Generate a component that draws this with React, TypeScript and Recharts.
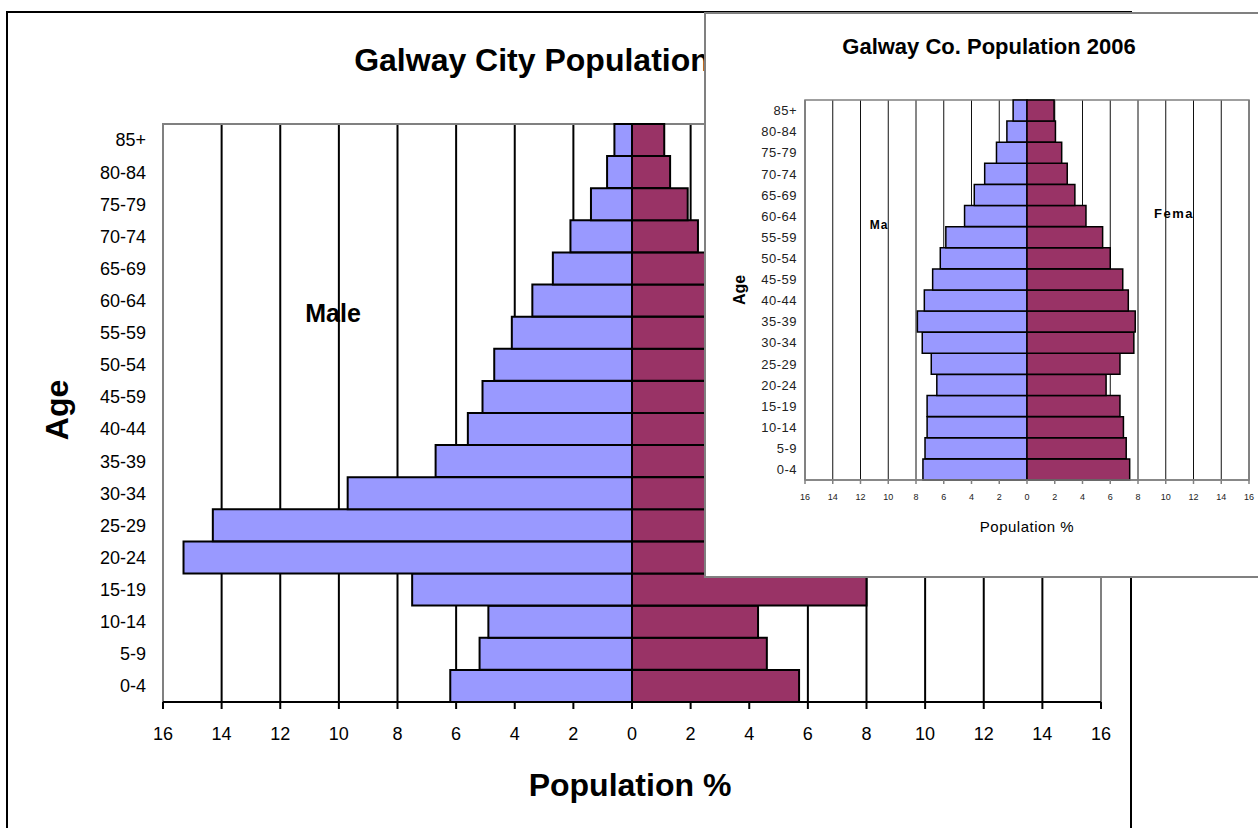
import React from "react";
import {
	Bar,
	BarChart,
	CartesianGrid,
	ReferenceArea,
	XAxis,
	YAxis,
} from "recharts";

// Age groups, bottom to top (the source sheet says "45-59" where it means 45-49)
export const ageGroups = [
	"0-4", "5-9", "10-14", "15-19", "20-24", "25-29", "30-34", "35-39", "40-44",
	"45-59", "50-54", "55-59", "60-64", "65-69", "70-74", "75-79", "80-84", "85+",
];

// Galway City 2006, % of population
export const cityMale = [6.2, 5.2, 4.9, 7.5, 15.3, 14.3, 9.7, 6.7, 5.6, 5.1, 4.7, 4.1, 3.4, 2.7, 2.1, 1.4, 0.85, 0.6];
export const cityFemale = [5.7, 4.6, 4.3, 8.0, 13.0, 12.5, 8.8, 6.2, 5.2, 4.7, 4.3, 3.6, 3.0, 2.6, 2.25, 1.9, 1.3, 1.1];

// Galway County 2006, % of population
export const countyMale = [7.5, 7.35, 7.2, 7.2, 6.5, 6.9, 7.55, 7.9, 7.4, 6.8, 6.25, 5.85, 4.5, 3.8, 3.05, 2.2, 1.45, 1.0];
export const countyFemale = [7.4, 7.15, 6.95, 6.7, 5.7, 6.7, 7.7, 7.8, 7.3, 6.9, 6.0, 5.45, 4.25, 3.45, 2.9, 2.5, 2.05, 1.95];

export const popTicks = [-16, -14, -12, -10, -8, -6, -4, -2, 0, 2, 4, 6, 8, 10, 12, 14, 16];

const MALE = "#9999FF";
const FEMALE = "#993366";
const FONT = "'Liberation Sans', Arial, sans-serif";

// male goes left of zero, so store it negative
const toRows = (male: number[], female: number[]) =>
	ageGroups.map((age, i) => ({ age, male: -male[i], female: female[i] }));

const cityRows = toRows(cityMale, cityFemale);
const countyRows = toRows(countyMale, countyFemale);

const abs = (v: number) => String(Math.abs(v));

function Label({ x, y, size, bold = true, rotate = false, spacing = 0, children }: any) {
	return (
		<div
			style={{
				position: "absolute",
				left: x,
				top: y,
				transform: `translate(-50%, -50%)${rotate ? " rotate(-90deg)" : ""}`,
				fontFamily: FONT,
				fontSize: size,
				fontWeight: bold ? 700 : 400,
				letterSpacing: spacing,
				whiteSpace: "nowrap",
				color: "#000",
			}}
		>
			{children}
		</div>
	);
}

function CityChart() {
	return (
		<BarChart
			width={1122}
			height={830}
			data={cityRows}
			layout="vertical"
			stackOffset="sign"
			barCategoryGap={0}
			margin={{ top: 111, right: 29, bottom: 81, left: 0 }}
		>
			<CartesianGrid horizontal={false} stroke="#000" strokeWidth={2} />
			<ReferenceArea x1={-16} x2={16} fill="none" stroke="#808080" strokeWidth={2} />
			<XAxis
				type="number"
				domain={[-16, 16]}
				ticks={popTicks}
				tickFormatter={abs}
				height={60}
				axisLine={{ stroke: "#000", strokeWidth: 2 }}
				tickLine={{ stroke: "#000", strokeWidth: 2 }}
				tickSize={7}
				tickMargin={18}
				tick={{ fill: "#000", fontSize: 18, fontFamily: FONT }}
			/>
			<YAxis
				type="category"
				dataKey="age"
				reversed
				width={155}
				axisLine={false}
				tickLine={false}
				tickSize={0}
				tickMargin={17}
				interval={0}
				tick={{ fill: "#000", fontSize: 18, fontFamily: FONT }}
			/>
			<Bar dataKey="male" stackId="a" fill={MALE} stroke="#000" strokeWidth={2} isAnimationActive={false} />
			<Bar dataKey="female" stackId="a" fill={FEMALE} stroke="#000" strokeWidth={2} isAnimationActive={false} />
		</BarChart>
	);
}

function CountyChart() {
	return (
		<BarChart
			width={560}
			height={562}
			data={countyRows}
			layout="vertical"
			stackOffset="sign"
			barCategoryGap={0}
			margin={{ top: 86, right: 17, bottom: 51, left: 0 }}
		>
			<CartesianGrid horizontal={false} stroke="#111" strokeWidth={1} />
			<ReferenceArea x1={-16} x2={16} fill="none" stroke="#808080" strokeWidth={1.5} />
			<XAxis
				type="number"
				domain={[-16, 16]}
				ticks={popTicks}
				tickFormatter={abs}
				height={45}
				axisLine={{ stroke: "#808080", strokeWidth: 1.5 }}
				tickLine={{ stroke: "#808080", strokeWidth: 1.5 }}
				tickSize={4}
				tickMargin={10}
				tick={{ fill: "#222", fontSize: 9, fontFamily: FONT }}
			/>
			<YAxis
				type="category"
				dataKey="age"
				reversed
				width={99}
				axisLine={false}
				tickLine={false}
				tickSize={0}
				tickMargin={8}
				interval={0}
				tick={{ fill: "#222", fontSize: 13, fontFamily: FONT, letterSpacing: 0.5 }}
			/>
			<Bar dataKey="male" stackId="a" fill={MALE} stroke="#000" strokeWidth={1.5} isAnimationActive={false} />
			<Bar dataKey="female" stackId="a" fill={FEMALE} stroke="#000" strokeWidth={1.5} isAnimationActive={false} />
		</BarChart>
	);
}

export default function App() {
	return (
		<div
			style={{
				position: "absolute",
				left: 0,
				top: 0,
				width: 1258,
				height: 828,
				overflow: "hidden",
				background: "#fff",
			}}
		>
			{/* Galway City chart, with its frame */}
			<div
				style={{
					position: "absolute",
					left: 6,
					top: 11,
					width: 1122,
					height: 840,
					border: "2px solid #000",
				}}
			>
				<div style={{ position: "absolute", left: 0, top: 0 }}>
					<CityChart />
				</div>
			</div>
			<Label x={572} y={60} size={32}>Galway City Population 2006</Label>
			<Label x={333} y={313} size={25}>Male</Label>
			<Label x={57} y={410} size={32} rotate>Age</Label>
			<Label x={630} y={785} size={32}>Population %</Label>

			{/* Galway Co. chart laid over the top right */}
			<div
				style={{
					position: "absolute",
					left: 704,
					top: 12,
					width: 580,
					height: 562,
					background: "#fff",
					border: "2px solid #808080",
				}}
			>
				<div style={{ position: "absolute", left: 0, top: 0 }}>
					<CountyChart />
				</div>
				<Label x={283} y={33} size={22}>Galway Co. Population 2006</Label>
				<Label x={34} y={276} size={16} rotate>Age</Label>
				<Label x={173} y={211} size={12} spacing={1}>Ma</Label>
				<Label x={468} y={199} size={13} spacing={1.5}>Fema</Label>
				<Label x={321} y={512} size={15} bold={false} spacing={0.5}>Population %</Label>
			</div>
		</div>
	);
}
